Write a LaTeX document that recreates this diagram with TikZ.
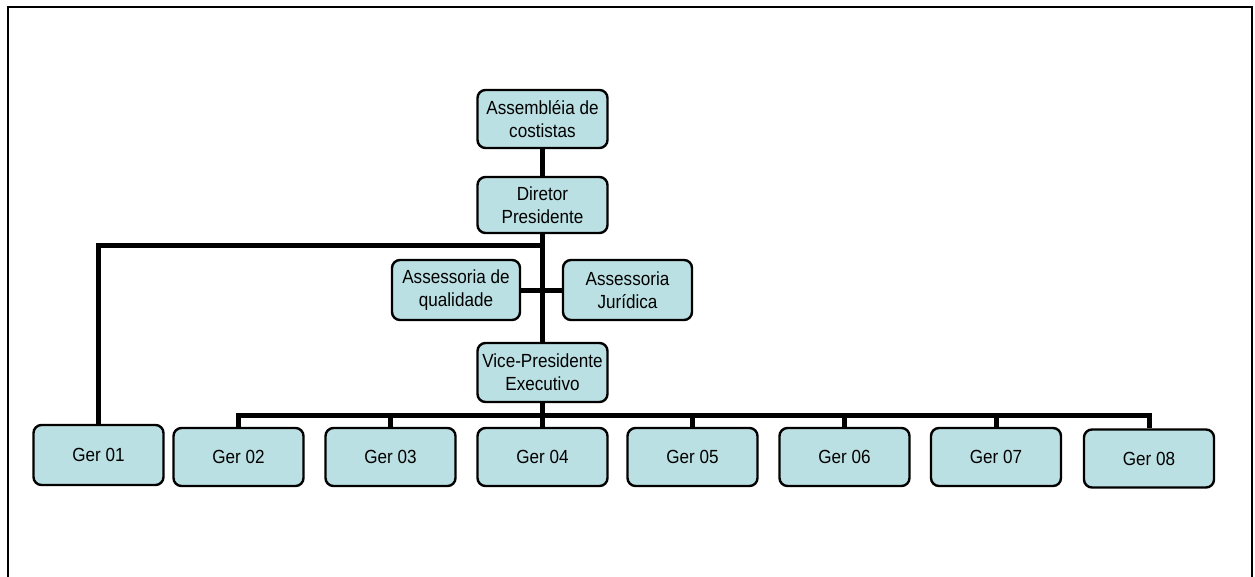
\documentclass[tikz,border=0pt]{standalone}
\usepackage{fontspec}
\setmainfont{Liberation Sans}[FakeStretch=0.9]
\definecolor{boxfill}{HTML}{BBE0E3}
\begin{document}
\begin{tikzpicture}[x=1pt,y=-1pt,
  orgbox/.style={draw=black, line width=2.4pt, fill=boxfill, rounded corners=8pt,
    inner sep=0pt, align=center, minimum width=130pt, minimum height=58pt,
    font=\fontsize{19}{23}\selectfont},
  conn/.style={draw=black, line width=5pt, line join=miter},
  frame/.style={draw=black, line width=2.6pt}]
\useasboundingbox (0,0) rectangle (1255,577);
% open outer frame
\draw[frame] (8,577) -- (8,7) -- (1252,7) -- (1252,577);

% upper chain
\node[orgbox] (asm) at (542.5,119) {Assembléia de\\costistas};
\node[orgbox, minimum height=56pt] (dir) at (542.5,205) {Diretor\\Presidente};
\node[orgbox, minimum width=128pt, minimum height=60pt] (aq) at (456,290) {Assessoria de\\qualidade};
\node[orgbox, minimum width=129pt, minimum height=60pt] (aj) at (627.5,290) {Assessoria\\Jurídica};
\node[orgbox, minimum height=59pt] (vp) at (542.5,372.5) {Vice-Presidente\\Executivo};

% managers
\node[orgbox, minimum height=60pt] (g1) at (98.5,455) {Ger 01};
\node[orgbox] (g2) at (238.5,457) {Ger 02};
\node[orgbox] (g3) at (390.5,457) {Ger 03};
\node[orgbox] (g4) at (542.5,457) {Ger 04};
\node[orgbox] (g5) at (692.5,457) {Ger 05};
\node[orgbox] (g6) at (844.5,457) {Ger 06};
\node[orgbox] (g7) at (996,457) {Ger 07};
\node[orgbox] (g8) at (1149,458.5) {Ger 08};

% junction points on the trunk
\coordinate (jn) at (542.5,246);
\coordinate (bus) at (542.5,415);

% connectors
\draw[conn] (asm.south) -- (dir.north);
\draw[conn] (dir.south) -- (vp.north);
\draw[conn] (jn) -| (g1.north);
\draw[conn] (aq.east) -- (aj.west);
\draw[conn] (vp.south) -- (bus);
\foreach \g in {g2,g3,g4,g5,g6,g7,g8}
  \draw[conn] (bus) -| (\g.north);
\end{tikzpicture}
\end{document}
